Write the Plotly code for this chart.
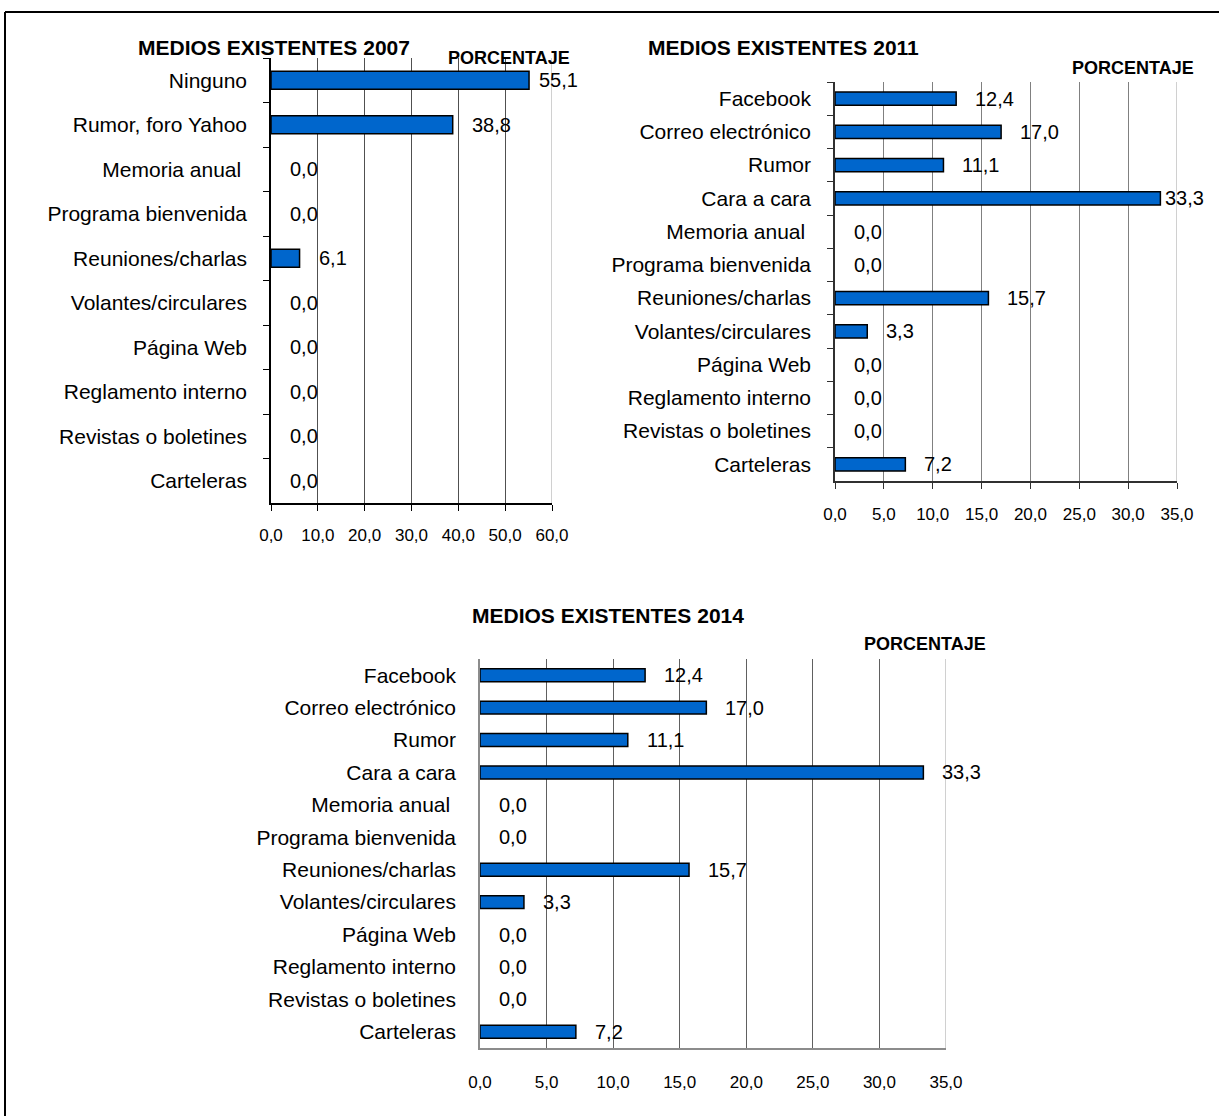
import plotly.graph_objects as go

# ---------------- data ----------------
titles = ["MEDIOS EXISTENTES 2007", "MEDIOS EXISTENTES 2011", "MEDIOS EXISTENTES 2014"]
axis_caption = "PORCENTAJE"

cats_2007 = ["Ninguno", "Rumor, foro Yahoo", "Memoria anual\u00a0", "Programa bienvenida",
             "Reuniones/charlas", "Volantes/circulares", "Página Web", "Reglamento interno",
             "Revistas o boletines", "Carteleras"]
vals_2007 = [55.1, 38.8, 0.0, 0.0, 6.1, 0.0, 0.0, 0.0, 0.0, 0.0]

cats_2011 = ["Facebook", "Correo electrónico", "Rumor", "Cara a cara", "Memoria anual\u00a0",
             "Programa bienvenida", "Reuniones/charlas", "Volantes/circulares", "Página Web",
             "Reglamento interno", "Revistas o boletines", "Carteleras"]
vals_2011 = [12.4, 17.0, 11.1, 33.3, 0.0, 0.0, 15.7, 3.3, 0.0, 0.0, 0.0, 7.2]

cats_2014 = list(cats_2011)
vals_2014 = [12.4, 17.0, 11.1, 33.3, 0.0, 0.0, 15.7, 3.3, 0.0, 0.0, 0.0, 7.2]

# ---------------- layout settings ----------------
W, H = 1219, 1116
FONT = "Liberation Sans, Arial, sans-serif"
BLUE = "#0066CC"

panels = [
    dict(cats=cats_2007, vals=vals_2007, title=titles[0], rmax=60, dtick=10,
         px=(271, 552), py=(58, 503), grid="#505050", axis="black", ticks=True,
         xstand=10, ystand=18,
         title_xy=(274, 48), pct_xy=(509, 58), label_limit=576),
    dict(cats=cats_2011, vals=vals_2011, title=titles[1], rmax=35, dtick=5,
         px=(835, 1177), py=(82, 481), grid="#808080", axis="#303030", ticks=True,
         xstand=11, ystand=18,
         title_xy=(783, 48), pct_xy=(1133, 68), label_limit=1202),
    dict(cats=cats_2014, vals=vals_2014, title=titles[2], rmax=35, dtick=5,
         px=(480, 946), py=(659, 1048), grid="#606060", axis="#8c8c8c", ticks=False,
         xstand=18, ystand=18,
         title_xy=(608, 615), pct_xy=(925, 644), label_limit=5000),
]


def fx(p):
    return p / W


def fy(p):
    return 1 - p / H


def fmt(v):
    return f"{v:.1f}".replace(".", ",")


fig = go.Figure()
annotations = []
shapes = []
layout = {}

for i, p in enumerate(panels):
    sfx = "" if i == 0 else str(i + 1)
    xa, ya = "x" + sfx, "y" + sfx
    fig.add_trace(go.Bar(
        x=p["vals"], y=p["cats"], orientation="h",
        marker=dict(color=BLUE,
                    line=dict(color="black",
                              width=[1.5 if v > 0 else 0 for v in p["vals"]])),
        xaxis=xa, yaxis=ya, showlegend=False, hoverinfo="x+y",
    ))
    layout["xaxis" + sfx] = dict(
        domain=[fx(p["px"][0]), fx(p["px"][1])], anchor=ya,
        range=[0, p["rmax"]], dtick=p["dtick"], tick0=0, tickformat=".1f",
        showgrid=True, gridcolor=p["grid"], gridwidth=1, zeroline=False,
        showline=True, linecolor=p["axis"], linewidth=1.5,
        ticks="outside" if p["ticks"] else "", ticklen=6, tickcolor=p["axis"],
        ticklabelstandoff=p["xstand"],
        tickfont=dict(family=FONT, size=17, color="black"),
        automargin=False, fixedrange=True,
    )
    layout["yaxis" + sfx] = dict(
        domain=[fy(p["py"][1]), fy(p["py"][0])], anchor=xa,
        type="category", categoryorder="array", categoryarray=p["cats"],
        autorange="reversed",
        showgrid=False, zeroline=False,
        showline=True, linecolor=p["axis"], linewidth=1.5,
        ticks="outside" if p["ticks"] else "", tickson="boundaries",
        ticklen=6, tickcolor=p["axis"],
        ticklabelstandoff=p["ystand"],
        tickfont=dict(family=FONT, size=21, color="black"),
        automargin=False, fixedrange=True,
    )
    # lighter last gridline at the right edge
    shapes.append(dict(type="line", xref=xa, yref=ya + " domain",
                       x0=p["rmax"], x1=p["rmax"], y0=0, y1=1,
                       line=dict(color="#c0c0c0", width=1.5), layer="above"))
    # titles
    annotations.append(dict(text=f"<b>{p['title']}</b>", xref="paper", yref="paper",
                            x=fx(p["title_xy"][0]), y=fy(p["title_xy"][1]),
                            xanchor="center", yanchor="middle", showarrow=False,
                            font=dict(family=FONT, size=21, color="black")))
    annotations.append(dict(text=f"<b>{axis_caption}</b>", xref="paper", yref="paper",
                            x=fx(p["pct_xy"][0]), y=fy(p["pct_xy"][1]),
                            xanchor="center", yanchor="middle", showarrow=False,
                            font=dict(family=FONT, size=18, color="black")))
    # data labels
    scale = (p["px"][1] - p["px"][0]) / p["rmax"]
    for c, v in zip(p["cats"], p["vals"]):
        end_px = p["px"][0] + v * scale
        shift = min(17, p["label_limit"] - end_px - 39)
        annotations.append(dict(text=fmt(v), x=v, y=c, xref=xa, yref=ya,
                                xanchor="left", yanchor="middle", xshift=shift,
                                showarrow=False,
                                font=dict(family=FONT, size=20, color="black")))

# outer frame (top and left edges visible in the original)
shapes.append(dict(type="line", xref="paper", yref="paper",
                   x0=fx(5), x1=1, y0=fy(12), y1=fy(12),
                   line=dict(color="black", width=2)))
shapes.append(dict(type="line", xref="paper", yref="paper",
                   x0=fx(5), x1=fx(5), y0=fy(12), y1=0,
                   line=dict(color="black", width=2)))

fig.update_layout(
    width=W, height=H, autosize=False,
    margin=dict(l=0, r=0, t=0, b=0, pad=0),
    paper_bgcolor="white", plot_bgcolor="white",
    separators=",.",
    bargap=0.6,
    font=dict(family=FONT, color="black"),
    annotations=annotations, shapes=shapes,
    **layout,
)

fig.write_html("out.html")
